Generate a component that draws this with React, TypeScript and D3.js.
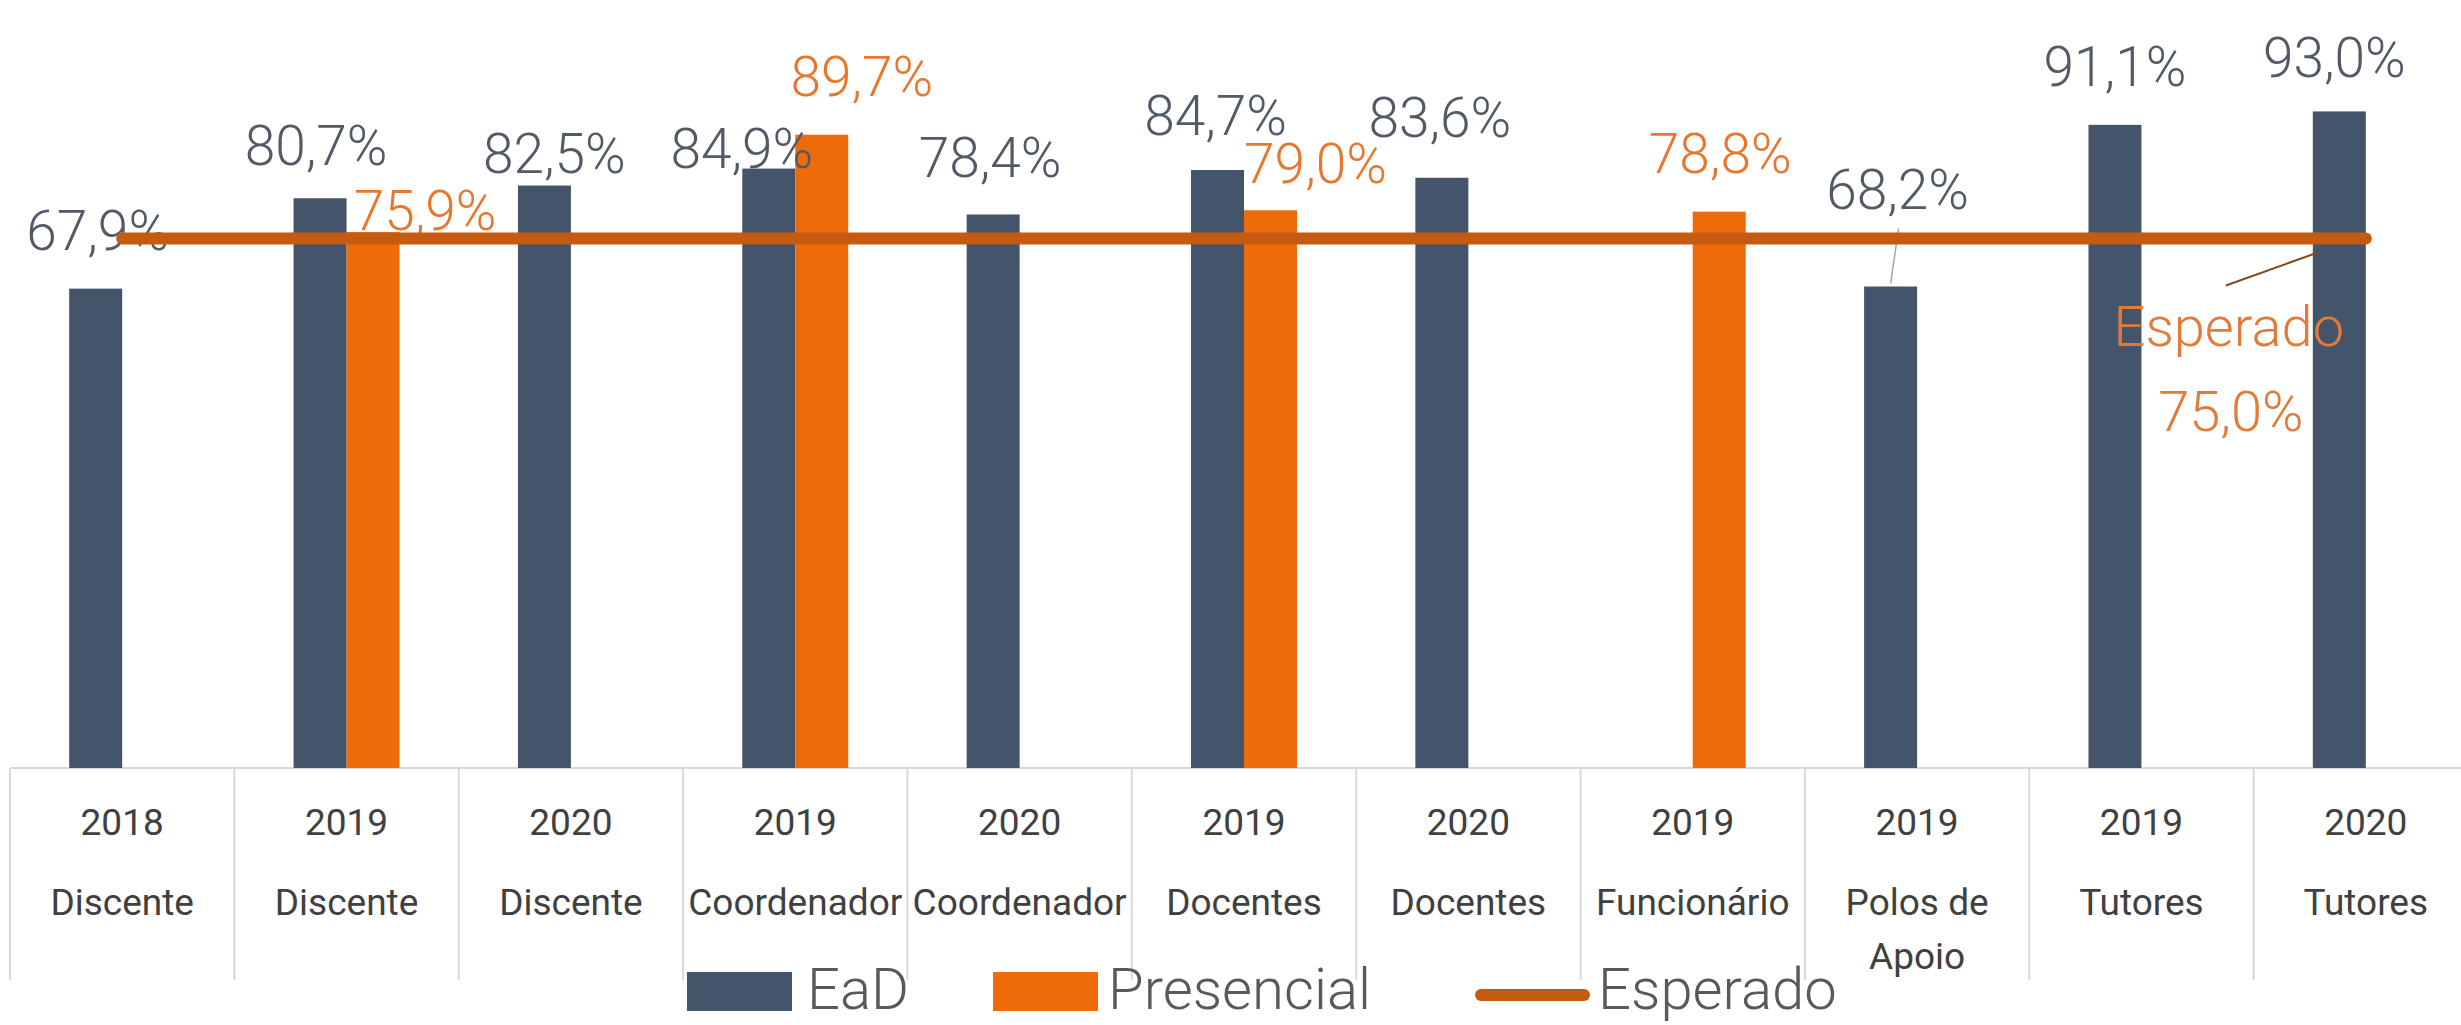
import * as d3 from "d3";

const years = ["2018", "2019", "2020", "2019", "2020", "2019", "2020", "2019", "2019", "2019", "2020"];
const groups = [
  "Discente",
  "Discente",
  "Discente",
  "Coordenador",
  "Coordenador",
  "Docentes",
  "Docentes",
  "Funcionário",
  "Polos de|Apoio",
  "Tutores",
  "Tutores",
];
const eadValues = [67.9, 80.7, 82.5, 84.9, 78.4, 84.7, 83.6, null, 68.2, 91.1, 93.0];
const presencialValues = [null, 75.9, null, 89.7, null, 79.0, null, 78.8, null, null, null];
const esperadoValues = [75, 75, 75, 75, 75, 75, 75, 75, 75, 75, 75];
const seriesNames = ["EaD", "Presencial"];

// hand-placed label nudges (px), like the moved labels in the original
const eadLabelShift = [[2, -2], [-4, 4], [10, 24], [-27, 36], [-3, 0], [-2, 2], [-2, -4], null, [7, -41], [0, -2], [-5, 3]];
const presLabelShift = [null, [52, 35], null, [40, -2], null, [45, 10], null, [1, -2], null, null, null];

const W = 2461;
const H = 1025;
const left = 10;
const right = 2478;
const baseY = 768;
const topY = 62;

const EAD = "#44546A";
const PRES = "#EE6B0A";
const LINE = "#C55A11";
const GRID = "#D9D9D9";
const FONT = "Roboto, 'Open Sans', sans-serif";

const pt = d3.formatLocale({ decimal: ",", thousands: ".", grouping: [3], currency: ["R$", ""] }).format(".1f");

export default function App() {
  const idx = years.map((_, i) => i);
  const x0 = d3.scaleBand<number>().domain(idx).range([left, right]).paddingInner(0).paddingOuter(0);
  const x1 = d3.scaleBand<string>().domain(seriesNames).range([0, x0.bandwidth()]).paddingInner(0).paddingOuter(1.117);
  const y = d3.scaleLinear().domain([0, 100]).range([baseY, topY]);
  const cx = (i: number) => (x0(i) as number) + x0.bandwidth() / 2;

  const line = d3
    .line<number>()
    .x((_, i) => cx(i))
    .y((v) => y(v));

  const bars = [
    { name: "EaD", values: eadValues, color: EAD, shift: eadLabelShift, text: "#525A66" },
    { name: "Presencial", values: presencialValues, color: PRES, shift: presLabelShift, text: "#E8772E" },
  ];

  const lastI = esperadoValues.length - 1;
  const endX = cx(lastI);
  const endY = y(esperadoValues[lastI]);

  const polosI = 8;
  const polosBarX = (x0(polosI) as number) + (x1("EaD") as number) + x1.bandwidth() / 2;
  const polosLabelX = polosBarX + (eadLabelShift[polosI] as number[])[0];
  const polosLabelY = y(eadValues[polosI] as number) - 57 + (eadLabelShift[polosI] as number[])[1];

  return (
    <svg width={W} height={H} style={{ display: "block", background: "#fff" }}>
      <style>{`body{margin:0}`}</style>

      {/* category table */}
      <line x1={left} x2={W} y1={baseY} y2={baseY} stroke={GRID} strokeWidth={2} />
      {idx.map((i) => (
        <line key={`sep${i}`} x1={x0(i)} x2={x0(i)} y1={baseY} y2={980} stroke={GRID} strokeWidth={2} />
      ))}
      {idx.map((i) => (
        <g key={`cat${i}`} fontFamily={FONT} fontSize={37} fill="#404040" textAnchor="middle">
          <text x={cx(i)} y={835}>{years[i]}</text>
          {groups[i].split("|").map((t, k) => (
            <text key={k} x={cx(i)} y={915 + k * 54}>{t}</text>
          ))}
        </g>
      ))}

      {/* bars */}
      {bars.map((s) =>
        s.values.map((v, i) =>
          v == null ? null : (
            <rect
              key={`${s.name}${i}`}
              x={(x0(i) as number) + (x1(s.name) as number)}
              y={y(v)}
              width={x1.bandwidth()}
              height={baseY - y(v)}
              fill={s.color}
            />
          )
        )
      )}

      {/* value labels */}
      {bars.map((s) =>
        s.values.map((v, i) => {
          if (v == null) return null;
          const sh = (s.shift[i] as number[]) || [0, 0];
          const bx = (x0(i) as number) + (x1(s.name) as number) + x1.bandwidth() / 2;
          return (
            <text
              key={`lab${s.name}${i}`}
              x={bx + sh[0]}
              y={y(v) - 57 + sh[1] + 20}
              textAnchor="middle"
              fontFamily={FONT}
              fontWeight={300}
              fontSize={55}
              fill={s.text}
            >
              {pt(v)}%
            </text>
          );
        })
      )}

      {/* leader for Polos de Apoio */}
      <line
        x1={polosLabelX + 1}
        y1={polosLabelY + 40}
        x2={polosBarX}
        y2={y(eadValues[polosI] as number) - 3}
        stroke="#A6A6A6"
        strokeWidth={1.5}
      />

      {/* Esperado line */}
      <path d={line(esperadoValues) || ""} fill="none" stroke={LINE} strokeWidth={12} strokeLinecap="round" />

      {/* Esperado label */}
      <line x1={endX - 140} y1={endY + 47} x2={endX - 48} y2={endY + 14} stroke="#7F4A1E" strokeWidth={2} />
      <g fontFamily={FONT} fontWeight={300} fontSize={56} fill="#E07B39" textAnchor="middle">
        <text x={endX - 137} y={endY + 107}>Esperado</text>
        <text x={endX - 135} y={endY + 192}>{pt(esperadoValues[lastI])}%</text>
      </g>

      {/* legend */}
      <g fontFamily={FONT} fontWeight={300} fontSize={58} fill="#595959">
        <rect x={687} y={972} width={105} height={39} fill={EAD} />
        <text x={807} y={1009}>EaD</text>
        <rect x={993} y={972} width={105} height={39} fill={PRES} />
        <text x={1108} y={1009}>Presencial</text>
        <line x1={1481} x2={1584} y1={995} y2={995} stroke={LINE} strokeWidth={12} strokeLinecap="round" />
        <text x={1598} y={1009}>Esperado</text>
      </g>
    </svg>
  );
}
